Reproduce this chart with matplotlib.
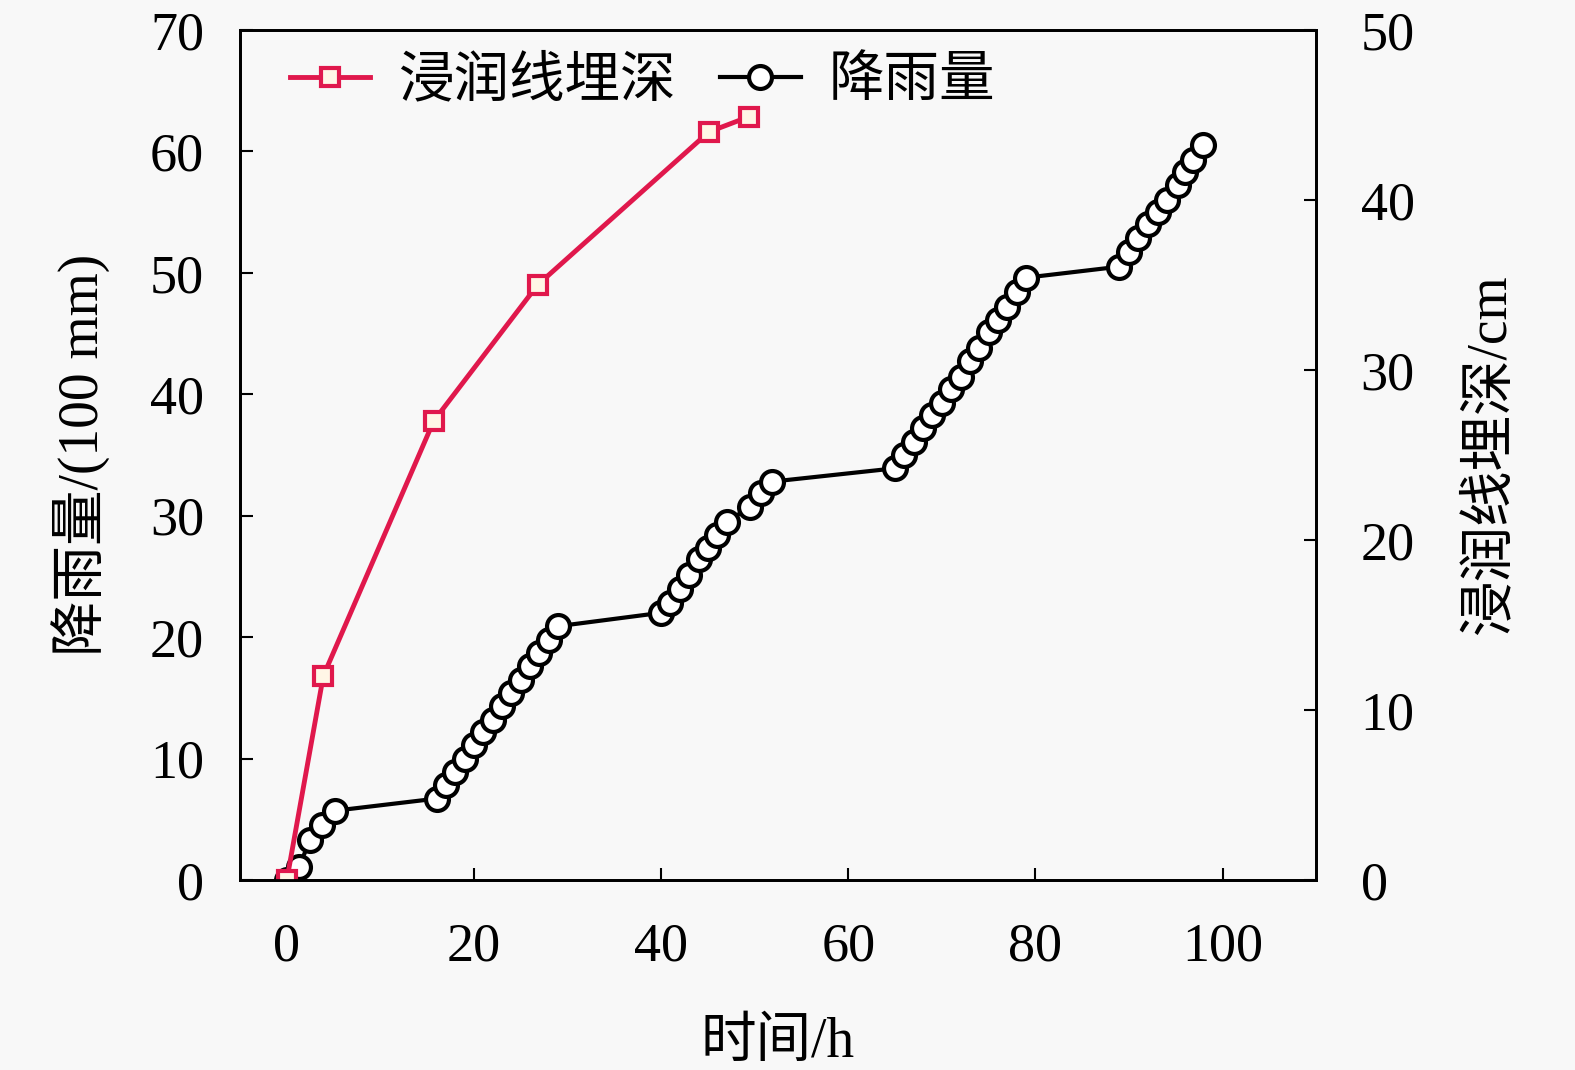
import numpy as np
from matplotlib import pyplot as plt

# 浸润线埋深 (right axis, cm)
depth_t = [0, 3.9, 15.7, 26.8, 45.1, 49.4]
depth_v = [0, 12.0, 27.0, 35.0, 44.0, 44.9]

# 降雨量 (left axis, 100 mm)
rain_t = [0, 1.3, 2.5, 3.8, 5.1,
          16, 17, 18, 19, 20, 21, 22, 23, 24, 25, 26, 27, 28, 29,
          40, 41, 42, 43, 44, 45, 46, 47, 49.5, 50.7, 51.8,
          65, 66, 67, 68, 69, 70, 71, 72, 73, 74, 75, 76, 77, 78, 79,
          88.9, 90.0, 91.0, 92.0, 93.1, 94.1, 95.2, 96.0, 96.9, 97.9]
rain_v = [0, 1.1, 3.3, 4.5, 5.7,
          6.7, 7.8, 8.9, 10.0, 11.1, 12.2, 13.2, 14.3, 15.4, 16.5, 17.6, 18.7, 19.8, 20.9,
          22.0, 22.8, 24.0, 25.1, 26.4, 27.3, 28.4, 29.5, 30.7, 31.9, 32.8,
          33.9, 35.0, 36.1, 37.2, 38.3, 39.3, 40.4, 41.4, 42.7, 43.8, 45.1, 46.1, 47.2, 48.4, 49.6,
          50.5, 51.7, 52.9, 54.0, 55.0, 56.0, 57.2, 58.3, 59.3, 60.5]

fam = ['Liberation Serif', 'Noto Sans CJK SC']
plt.rcParams['font.family'] = fam
plt.rcParams['axes.unicode_minus'] = False

bg = '#f8f8f8'
fig = plt.figure(figsize=(15.75, 10.7), dpi=100, facecolor=bg)
ax = fig.add_axes([0.1524, 0.1776, 0.6832, 0.7944])
ax.set_facecolor(bg)
ax2 = ax.twinx()

l2, = ax.plot(rain_t, rain_v, color='black', lw=3, marker='o', ms=16.5,
              mfc='white', mec='black', mew=3, label='降雨量')
l1, = ax2.plot(depth_t, depth_v, color='#e0184c', lw=3.5, marker='s', ms=13,
               mfc='#fff6e6', mec='#e0184c', mew=3, label='浸润线埋深')

ax.set_xlim(-5, 110)
ax.set_ylim(0, 70)
ax2.set_ylim(0, 50)
ax.set_xticks([0, 20, 40, 60, 80, 100])
ax.set_yticks(np.arange(0, 71, 10))
ax2.set_yticks(np.arange(0, 51, 10))

for a in (ax, ax2):
    a.tick_params(direction='in', length=9, width=1.5, labelsize=39, pad=26)
    for s in a.spines.values():
        s.set_linewidth(2)
ax.tick_params(axis='y', right=False, pad=26)
ax.tick_params(axis='x', top=False, pad=30)
ax2.tick_params(axis='y', pad=32)

ax.set_xlabel('时间/h', fontsize=40, labelpad=32)
ax.set_ylabel('降雨量/(100 mm)', fontsize=40, labelpad=28)
ax2.set_ylabel('浸润线埋深/cm', fontsize=40, labelpad=36)

ax.legend(handles=[l1, l2], loc='upper left', bbox_to_anchor=(0.01, 1.015), ncol=2,
          frameon=False, fontsize=40, handlelength=1.45, columnspacing=0.8,
          handletextpad=0.5, borderaxespad=0.3)

fig.savefig('out.png', dpi=100, facecolor=bg)
